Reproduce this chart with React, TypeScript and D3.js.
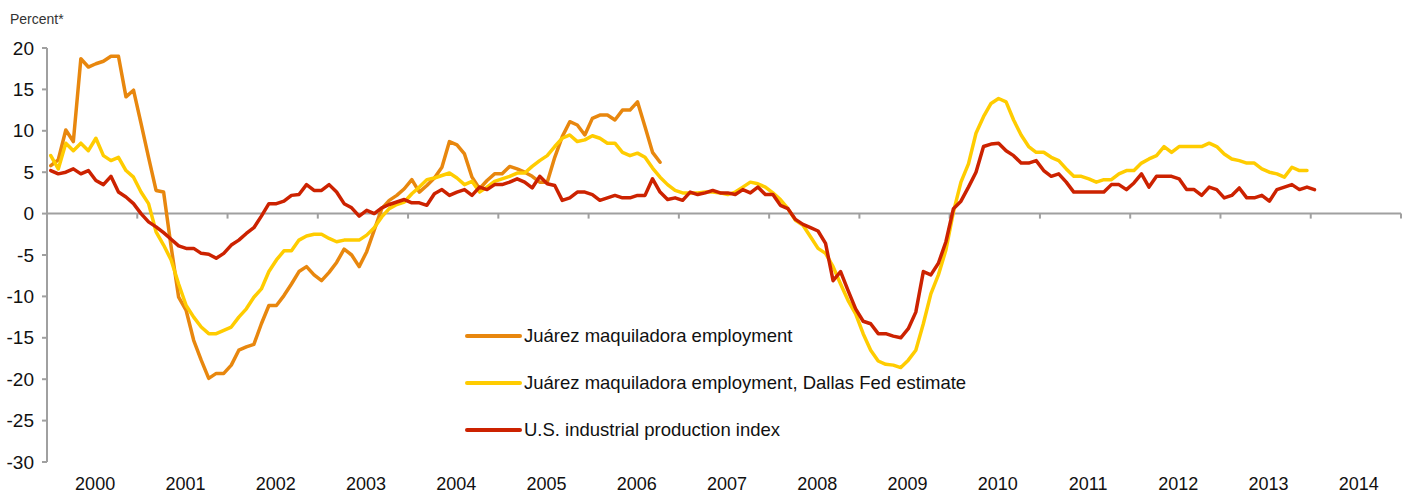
import React from 'react';
import * as d3 from 'd3';

// monthly values, first point = Jan 2000
const juarezEmployment = [
  5.8, 6.5, 10.1, 8.7, 18.7, 17.7, 18.1, 18.4, 19.0, 19.0, 14.1, 14.9,
  10.9, 6.8, 2.8, 2.6, -4.0, -10.1, -11.7, -15.3, -17.7, -19.9, -19.3, -19.3,
  -18.3, -16.5, -16.1, -15.8, -13.3, -11.1, -11.1, -9.9, -8.5, -7.0, -6.4, -7.4,
  -8.1, -7.1, -5.9, -4.3, -5.0, -6.4, -4.6, -2.0, 0.6, 1.6, 2.2, 3.0,
  4.1, 2.6, 3.4, 4.3, 5.6, 8.7, 8.3, 7.2, 4.4, 3.0, 4.0, 4.8,
  4.8, 5.7, 5.4, 5.0, 4.5, 3.8, 3.8, 6.8, 9.3, 11.1, 10.7, 9.5,
  11.5, 11.9, 11.9, 11.3, 12.5, 12.5, 13.5, 10.5, 7.4, 6.2,
];

const dallasFedEstimate = [
  7.0, 5.4, 8.5, 7.6, 8.5, 7.6, 9.1, 7.0, 6.4, 6.8, 5.2, 4.4,
  2.6, 1.2, -2.2, -3.8, -5.6, -8.5, -11.1, -12.5, -13.7, -14.5, -14.5, -14.1,
  -13.7, -12.5, -11.5, -10.1, -9.1, -7.0, -5.6, -4.5, -4.5, -3.2, -2.7, -2.5,
  -2.5, -3.0, -3.4, -3.2, -3.2, -3.2, -2.6, -1.7, -0.4, 0.6, 1.1, 1.4,
  2.4, 3.2, 4.1, 4.3, 4.6, 4.9, 4.3, 3.5, 3.9, 2.6, 3.2, 3.9,
  4.2, 4.5, 4.9, 4.9, 5.7, 6.4, 7.0, 8.1, 9.1, 9.5, 8.7, 8.9,
  9.4, 9.1, 8.5, 8.5, 7.4, 7.0, 7.3, 6.8, 5.5, 4.4, 3.5, 2.8,
  2.5, 2.5, 2.5, 2.6, 2.6, 2.5, 2.3, 2.6, 3.2, 3.8, 3.6, 3.2,
  2.5, 1.7, 0.6, -0.8, -1.4, -2.8, -4.2, -4.8, -6.4, -8.5, -10.5, -12.1,
  -14.5, -16.5, -17.8, -18.2, -18.3, -18.6, -17.7, -16.5, -13.3, -9.7, -7.4, -4.4,
  0.2, 3.8, 6.0, 9.7, 11.7, 13.3, 13.9, 13.5, 11.3, 9.5, 8.1, 7.4,
  7.4, 6.8, 6.4, 5.4, 4.5, 4.5, 4.2, 3.8, 4.1, 4.1, 4.8, 5.2,
  5.2, 6.1, 6.6, 7.0, 8.1, 7.4, 8.1, 8.1, 8.1, 8.1, 8.5, 8.1,
  7.2, 6.6, 6.4, 6.1, 6.1, 5.4, 5.0, 4.8, 4.4, 5.6, 5.2, 5.2,
];

const industrialProduction = [
  5.2, 4.8, 5.0, 5.4, 4.8, 5.2, 4.0, 3.5, 4.5, 2.6, 2.0, 1.2,
  0.0, -1.0, -1.6, -2.3, -3.1, -3.9, -4.2, -4.2, -4.8, -4.9, -5.4, -4.8,
  -3.8, -3.2, -2.4, -1.7, -0.3, 1.2, 1.2, 1.5, 2.2, 2.3, 3.5, 2.8,
  2.8, 3.5, 2.6, 1.2, 0.7, -0.3, 0.4, 0.0, 0.7, 1.1, 1.4, 1.7,
  1.3, 1.3, 1.0, 2.4, 2.9, 2.2, 2.6, 2.9, 2.2, 3.2, 2.9, 3.5,
  3.5, 3.8, 4.2, 3.8, 3.1, 4.5, 3.6, 3.4, 1.6, 1.9, 2.6, 2.6,
  2.3, 1.6, 1.9, 2.2, 1.9, 1.9, 2.2, 2.2, 4.2, 2.6, 1.7, 1.9,
  1.6, 2.6, 2.3, 2.5, 2.8, 2.5, 2.5, 2.3, 2.9, 2.5, 3.2, 2.3,
  2.3, 1.0, 0.6, -0.7, -1.3, -1.7, -2.1, -3.6, -8.1, -7.0, -9.3, -11.5,
  -13.0, -13.3, -14.5, -14.5, -14.8, -15.0, -13.9, -11.9, -7.0, -7.4, -6.0, -3.4,
  0.6, 1.5, 3.2, 5.0, 8.1, 8.4, 8.5, 7.6, 7.0, 6.1, 6.1, 6.4,
  5.2, 4.5, 4.8, 3.8, 2.6, 2.6, 2.6, 2.6, 2.6, 3.5, 3.5, 2.9,
  3.7, 4.8, 3.2, 4.5, 4.5, 4.5, 4.2, 2.9, 2.9, 2.2, 3.2, 2.9,
  1.9, 2.2, 3.1, 1.9, 1.9, 2.2, 1.5, 2.9, 3.2, 3.5, 2.9, 3.2,
  2.9,
];

const years = [2000, 2001, 2002, 2003, 2004, 2005, 2006, 2007, 2008, 2009, 2010, 2011, 2012, 2013, 2014];
const yTicks = [20, 15, 10, 5, 0, -5, -10, -15, -20, -25, -30];

const series = [
  { name: 'Juárez maquiladora employment', values: juarezEmployment, color: '#E8870E' },
  { name: 'Juárez maquiladora employment, Dallas Fed estimate', values: dallasFedEstimate, color: '#FFCC00' },
  { name: 'U.S. industrial production index', values: industrialProduction, color: '#CC2200' },
];

const W = 1403;
const H = 494;
const FONT = '"Liberation Sans", Arial, Helvetica, sans-serif';
const AXIS = '#a0a0a0';

export default function App() {
  const x = d3.scaleLinear().domain([2000, 2015]).range([47, 1401]);
  const y = d3.scaleLinear().domain([-30, 20]).range([462, 48]);

  // month index -> middle of that month
  const line = d3
    .line<number>()
    .x((_, i) => x(2000 + (i + 0.5) / 12))
    .y((d) => y(d));

  const y0 = y(0);

  return (
    <svg
      width={W}
      height={H}
      style={{ position: 'absolute', left: 0, top: 0, background: '#fff' }}
      fontFamily={FONT}
    >
      <text x={10} y={24} fontSize={14} fill="#333">Percent*</text>

      {/* y axis */}
      <line x1={x(2000)} x2={x(2000)} y1={y(20)} y2={y(-30)} stroke={AXIS} strokeWidth={2} />
      {yTicks.map((t) => (
        <g key={t}>
          <line x1={x(2000) - 5} x2={x(2000)} y1={y(t)} y2={y(t)} stroke={AXIS} strokeWidth={2} />
          <text x={34} y={y(t)} dy="0.35em" textAnchor="end" fontSize={19} fill="#111">
            {t}
          </text>
        </g>
      ))}

      {/* zero line with year ticks */}
      <line x1={x(2000)} x2={x(2015)} y1={y0} y2={y0} stroke={AXIS} strokeWidth={2} />
      {years.concat([2015]).map((yr) => (
        <line key={yr} x1={x(yr)} x2={x(yr)} y1={y0} y2={y0 + 5} stroke={AXIS} strokeWidth={2} />
      ))}
      {years.map((yr) => (
        <text key={yr} x={x(yr + 0.5) + 3} y={490} textAnchor="middle" fontSize={18} fill="#111">
          {yr}
        </text>
      ))}

      {/* series */}
      {series.map((s) => (
        <path
          key={s.name}
          d={line(s.values) || ''}
          fill="none"
          stroke={s.color}
          strokeWidth={3.5}
          strokeLinejoin="round"
          strokeLinecap="round"
        />
      ))}

      {/* legend */}
      {series.map((s, i) => (
        <g key={s.name} transform={`translate(467,${336 + i * 47})`}>
          <line x1={0} x2={53} y1={0} y2={0} stroke={s.color} strokeWidth={4} strokeLinecap="round" />
          <text x={57} y={0} dy="0.35em" fontSize={18.5} fill="#111">
            {s.name}
          </text>
        </g>
      ))}
    </svg>
  );
}
